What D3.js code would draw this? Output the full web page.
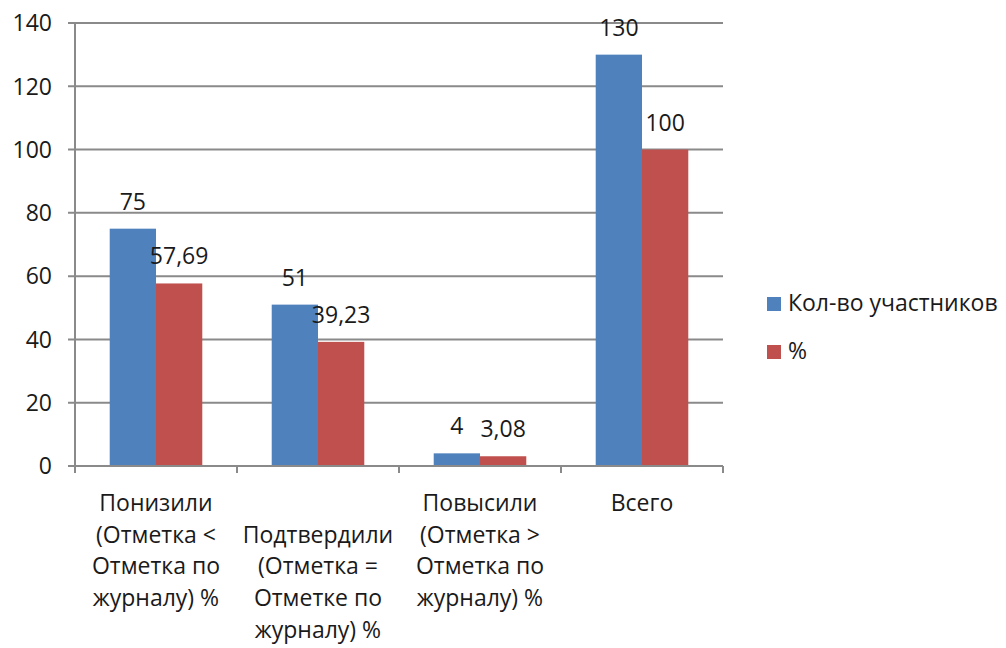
<!DOCTYPE html>
<html><head><meta charset="utf-8">
<script src="https://cdn.jsdelivr.net/npm/d3@7"></script>
<style>
html,body{margin:0;padding:0;background:#fff;}
svg{display:block;font-family:"Open Sans",sans-serif;}
</style></head>
<body>
<svg id="chart" width="1006" height="648"></svg>
<script>
const categories = [
  ["Понизили","(Отметка <","Отметка по","журналу) %"],
  ["Подтвердили","(Отметка =","Отметке по","журналу) %"],
  ["Повысили","(Отметка >","Отметка по","журналу) %"],
  ["Всего"]
];
const categoryLineOffset = [0, 1, 0, 0];
const seriesNames = ["Кол-во участников", "%"];
const countValues = [75, 51, 4, 130];
const percentValues = [57.69, 39.23, 3.08, 100];
const valueLabels = [["75","51","4","130"],["57,69","39,23","3,08","100"]];
const yTicks = [0, 20, 40, 60, 80, 100, 120, 140];
const colors = ["#4F81BD", "#C0504D"];

(function(){
const svg = d3.select("#chart");
const pLeft = 75, pRight = 723, pTop = 23, pBottom = 466;
const fontSize = 23;

const x = d3.scaleBand().domain(d3.range(categories.length)).range([pLeft, pRight]).paddingInner(0).paddingOuter(0);
const y = d3.scaleLinear().domain([0, 140]).range([pBottom, pTop]);
const bw = x.bandwidth() / 3.5;
const x1 = d3.scaleBand().domain([0, 1]).range([bw * 0.75, bw * 2.75]);

svg.append("g").selectAll("line").data(yTicks).join("line")
  .attr("x1", pLeft - 7).attr("x2", pRight)
  .attr("y1", d => y(d)).attr("y2", d => y(d))
  .attr("stroke", "#8a8a8a").attr("stroke-width", 2);

svg.append("g").selectAll("text").data(yTicks).join("text")
  .attr("x", 52).attr("y", d => y(d)).attr("dy", "0.36em")
  .attr("text-anchor", "end").attr("font-size", fontSize).attr("fill", "#1a1a1a")
  .text(d => d);

const series = [countValues, percentValues];
series.forEach((vals, si) => {
  svg.append("g").selectAll("rect").data(vals).join("rect")
    .attr("x", (d, i) => x(i) + x1(si))
    .attr("width", x1.bandwidth())
    .attr("y", d => y(d))
    .attr("height", d => pBottom - y(d))
    .attr("fill", colors[si]);
});

svg.append("line").attr("x1", pLeft).attr("x2", pLeft).attr("y1", pTop).attr("y2", pBottom + 7)
  .attr("stroke", "#8a8a8a").attr("stroke-width", 2);
svg.append("line").attr("x1", pLeft).attr("x2", pRight).attr("y1", pBottom).attr("y2", pBottom)
  .attr("stroke", "#8a8a8a").attr("stroke-width", 2);
svg.append("g").selectAll("line").data(d3.range(categories.length + 1)).join("line")
  .attr("x1", i => pLeft + i * x.bandwidth()).attr("x2", i => pLeft + i * x.bandwidth())
  .attr("y1", pBottom).attr("y2", pBottom + 7)
  .attr("stroke", "#8a8a8a").attr("stroke-width", 2);

series.forEach((vals, si) => {
  svg.append("g").selectAll("text").data(vals).join("text")
    .attr("x", (d, i) => x(i) + x1(si) + x1.bandwidth() / 2)
    .attr("y", d => y(d) - 19)
    .attr("text-anchor", "middle").attr("font-size", fontSize).attr("fill", "#1a1a1a")
    .text((d, i) => valueLabels[si][i]);
});

categories.forEach((lines, ci) => {
  const t = svg.append("text").attr("text-anchor", "middle").attr("font-size", fontSize).attr("fill", "#1a1a1a");
  lines.forEach((ln, li) => {
    t.append("tspan").attr("x", x(ci) + x.bandwidth() / 2)
      .attr("y", 511 + (li + categoryLineOffset[ci]) * 31.7).text(ln);
  });
});

const lg = svg.append("g");
seriesNames.forEach((n, i) => {
  lg.append("rect").attr("x", 767).attr("y", 297 + i * 48).attr("width", 14).attr("height", 14).attr("fill", colors[i]);
  lg.append("text").attr("x", 788).attr("y", 311 + i * 48).attr("font-size", fontSize).attr("fill", "#1a1a1a").text(n);
});
})();
</script>
</body></html>
